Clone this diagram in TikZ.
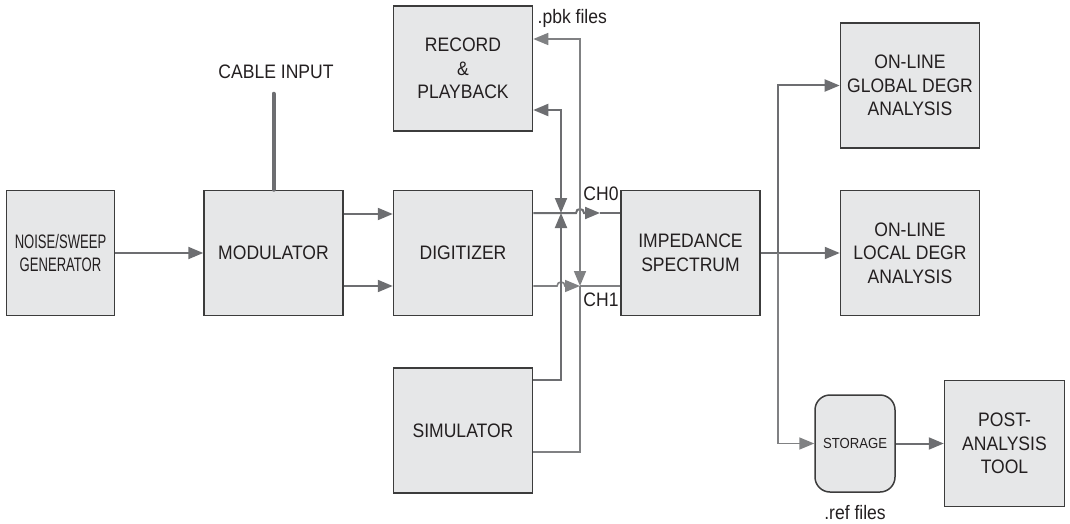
\documentclass[tikz,border=0pt]{standalone}
\usepackage{fontspec}
\setmainfont[FakeStretch=0.9]{Liberation Sans}
\newfontfamily\narrowfont[FakeStretch=0.67]{Liberation Sans}
\usetikzlibrary{arrows.meta,positioning,calc}
\definecolor{boxfill}{HTML}{E6E7E8}
\definecolor{boxline}{HTML}{3C3C3C}
\definecolor{wire}{HTML}{6D6E71}
\definecolor{wirelt}{HTML}{808183}
\definecolor{ink}{HTML}{231F20}

\begin{document}
\begin{tikzpicture}[x=0.5pt,y=-0.5pt,>={Triangle[length=7.5pt,width=6pt]},font=\fontsize{9.75pt}{11.75pt}\selectfont]
  \tikzstyle{box}=[draw=boxline,fill=boxfill,line width=0.75pt,minimum width=69.5pt,minimum height=62.5pt,align=center,text=ink]
  \tikzstyle{lbl}=[inner sep=0pt,text=ink]
  \tikzstyle{wr}=[wire,line width=1pt]
  \tikzstyle{wrlt}=[wirelt,line width=0.8pt]
  \useasboundingbox (0,0) rectangle (1070,524);
  % blocks
  \node[box] (dig) at (463,253) {DIGITIZER};
  \node[box,left=24.5pt of dig] (mod) {MODULATOR};
  \node[box,left=44pt of mod,minimum width=54pt,font=\narrowfont\fontsize{9.75pt}{11.75pt}\selectfont] (gen) {NOISE/SWEEP\\GENERATOR};
  \node[box,above=29pt of dig] (rec) {RECORD\\\&\\PLAYBACK};
  \node[box,below=25.5pt of dig] (sim) {SIMULATOR};
  \node[box,right=43.5pt of dig] (imp) {IMPEDANCE\\SPECTRUM};
  \node[box,right=39.5pt of imp] (loc) {ON-LINE\\LOCAL DEGR\\ANALYSIS};
  \node[box,above=20.5pt of loc] (glob) {ON-LINE\\GLOBAL DEGR\\ANALYSIS};
  \node[box,rounded corners=7.5pt,minimum width=40pt,minimum height=48.5pt,font=\fontsize{7.3pt}{9pt}\selectfont] (stor) at (855,443.5) {STORAGE};
  \node[box,right=24pt of stor,minimum width=60pt,minimum height=63pt] (post) {POST-\\ANALYSIS\\TOOL};
  % labels
  \coordinate (cabtop) at ($(mod.north)+(0,-96)$);
  \node[lbl] (cabtxt) at (276,72) {CABLE INPUT};
  \node[lbl,anchor=north west] (pbk) at ($(rec.north east)+(4,4)$) {.pbk files};
  \node[lbl,anchor=west] (ch0) at (583,194) {CH0};
  \node[lbl,anchor=west] (ch1) at (583,300) {CH1};
  \node[lbl,below=6pt of stor] (ref) {.ref files};
  % helper lines
  \coordinate (y0) at (0,213);
  \coordinate (y1) at (0,286);
  \coordinate (ya) at (0,110);
  \coordinate (yb) at (0,39);
  \coordinate (ys0) at (0,380);
  \coordinate (ys1) at (0,452);
  \coordinate (xa) at (561,0);
  \coordinate (xb) at (580,0);
  \coordinate (xt) at (600,0);
  \coordinate (xs) at (778,0);
  % connectors
  \draw[wr,line width=2pt,line cap=round] (cabtop) -- (mod.north);
  \draw[wr,->] (gen) -- (mod);
  \draw[wr,->] ([yshift=19.5pt]mod.east) -- ([yshift=19.5pt]dig.west);
  \draw[wr,->] ([yshift=-16.5pt]mod.east) -- ([yshift=-16.5pt]dig.west);
  \draw[wr,->] (dig.east |- y0) -- ($(xb |- y0)+(-4,0)$) .. controls +(0,-5.3) and +(0,-5.3) .. ($(xb |- y0)+(4,0)$) -- (xt |- y0);
  \draw[wr] (xt |- y0) -- (imp.west |- y0);
  \draw[wrlt,->] (dig.east |- y1) -- ($(xa |- y1)+(-4,0)$) .. controls +(0,-5.3) and +(0,-5.3) .. ($(xa |- y1)+(4,0)$) -- (xb |- y1);
  \draw[wrlt] (xb |- y1) -- (imp.west |- y1);
  \draw[wr,<->] (rec.east |- ya) -- (xa |- ya) -- (xa |- y0);
  \draw[wr,->] (sim.east |- ys0) -- (xa |- ys0) -- (xa |- y0);
  \draw[wrlt,<->] (rec.east |- yb) -- (xb |- yb) -- (xb |- y1);
  \draw[wrlt] (sim.east |- ys1) -- (xb |- ys1) -- (xb |- y1);
  \draw[wr,->] (imp) -- (loc);
  \draw[wr,->] (xs |- imp.east) |- (glob);
  \draw[wrlt,->] (xs |- imp.east) |- (stor);
  \draw[wr,->] (stor) -- (post);
\end{tikzpicture}
\end{document}
